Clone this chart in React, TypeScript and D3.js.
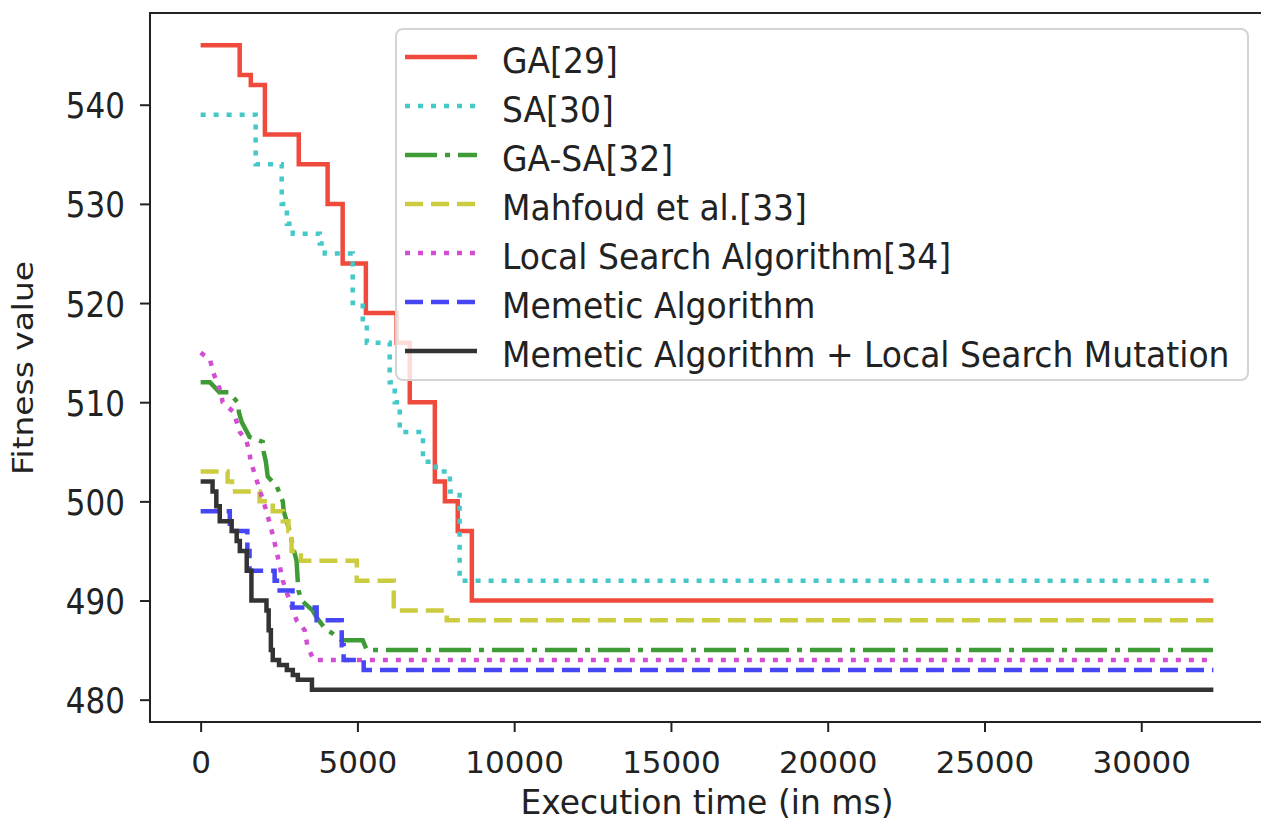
import React, { useEffect, useRef } from 'react';
import * as d3 from 'd3';

// values (time in ms, fitness value)
const gaTimes = [0, 1245, 1600, 2050, 3130, 4050, 4530, 5270, 6250, 6670, 7470, 7790, 8200, 8650, 32300];
const gaValues = [546, 543, 542, 537, 534, 530, 524, 519, 516, 510, 502, 500, 497, 490, 490];

const saTimes = [0, 1755, 2585, 2750, 2940, 3800, 3960, 4850, 5170, 5300, 6030, 6190, 6350, 7090, 7500, 7950, 8260, 32300];
const saValues = [539, 534, 530, 528, 527, 526, 525, 520, 518, 516, 512, 510, 507, 504, 503, 501, 492, 492];

const gasaTimes = [0, 300, 600, 900, 1180, 1220, 1310, 1560, 1980, 2010, 2080, 2140, 2430, 2620, 2650, 2840, 2940, 3060, 3090, 3120, 3220, 3570, 3700, 3960, 4200, 4500, 5170, 5300, 32300];
const gasaValues = [512, 512, 511, 511, 510, 509, 508, 506.5, 506, 505, 504, 502.5, 501.5, 500, 499, 497, 495.5, 494, 492.3, 491, 490, 489, 488.3, 487.2, 486.7, 486, 486, 485, 485];

const mahTimes = [0, 860, 1000, 1880, 2300, 2620, 2800, 2900, 3200, 4980, 6160, 7850, 32300];
const mahValues = [503, 502, 501, 500, 499, 498, 497, 495, 494, 492, 489, 488, 488];

const lsaTimes = [0, 300, 400, 650, 700, 1050, 1250, 1470, 1550, 1600, 1700, 1900, 2100, 2270, 2420, 2620, 2840, 3060, 3320, 3400, 3600, 32300];
const lsaValues = [515, 514.3, 513, 511, 510, 509, 507, 506, 505, 504, 503, 501, 499, 497, 495, 492, 490, 488, 487, 485.5, 484, 484];

const memTimes = [0, 930, 1490, 1560, 2360, 2520, 2930, 3700, 4500, 4560, 5200, 32300];
const memValues = [499, 497, 495, 493, 492, 491, 489.3, 488, 485.5, 484, 483, 483];

const malsTimes = [0, 380, 500, 610, 990, 1150, 1250, 1470, 1620, 2100, 2170, 2240, 2300, 2500, 2750, 2940, 3100, 3550, 32300];
const malsValues = [502, 501, 499.5, 498, 497, 496, 495, 493, 490, 489, 487, 485, 484, 483.5, 483, 482.5, 482, 481, 481];

const labels = [
  'GA[29]',
  'SA[30]',
  'GA-SA[32]',
  'Mahfoud et al.[33]',
  'Local Search Algorithm[34]',
  'Memetic Algorithm',
  'Memetic Algorithm + Local Search Mutation',
];

const xTicks = [0, 5000, 10000, 15000, 20000, 25000, 30000];
const yTicks = [480, 490, 500, 510, 520, 530, 540];

const FONT = 'DejaVu Sans, sans-serif';

export default function App() {
  const ref = useRef<SVGSVGElement>(null);

  useEffect(() => {
    drawChart();
  }, []);

  const drawChart = () => {
    const svg = d3.select(ref.current);
    svg.selectAll('*').remove();

    const series = [
      { t: gaTimes, v: gaValues, color: '#f04a3c', dash: null, curve: d3.curveStepAfter },
      { t: saTimes, v: saValues, color: '#45c8c8', dash: '5,8', curve: d3.curveStepAfter },
      { t: gasaTimes, v: gasaValues, color: '#3f9b35', dash: '32,8,5,8', curve: d3.curveLinear },
      { t: mahTimes, v: mahValues, color: '#cccc40', dash: '18,8', curve: d3.curveStepAfter },
      { t: lsaTimes, v: lsaValues, color: '#d24dd2', dash: '5,8', curve: d3.curveLinear },
      { t: memTimes, v: memValues, color: '#4646f5', dash: '18,8', curve: d3.curveStepAfter },
      { t: malsTimes, v: malsValues, color: '#333333', dash: null, curve: d3.curveStepAfter },
    ];

    const left = 150, right = 1264, top = 13, bottom = 722;

    const allT = series.flatMap(s => s.t);
    const allV = series.flatMap(s => s.v);
    const [t0, t1] = d3.extent(allT) as [number, number];
    const [v0, v1] = d3.extent(allV) as [number, number];
    const tp = (t1 - t0) * 0.05, vp = (v1 - v0) * 0.05;

    const x = d3.scaleLinear().domain([t0 - tp, t1 + tp]).range([left, right]);
    const y = d3.scaleLinear().domain([v0 - vp, v1 + vp]).range([bottom, top]);

    // lines
    const g = svg.append('g');
    series.forEach(s => {
      const pts = s.t.map((t, i) => [t, s.v[i]] as [number, number]);
      const line = d3.line<[number, number]>()
        .x(d => x(d[0]))
        .y(d => y(d[1]))
        .curve(s.curve);
      g.append('path')
        .attr('d', line(pts))
        .attr('fill', 'none')
        .attr('stroke', s.color)
        .attr('stroke-width', 4.5)
        .attr('stroke-dasharray', s.dash)
        .attr('stroke-linejoin', 'miter');
    });

    // frame
    svg.append('rect')
      .attr('x', left).attr('y', top)
      .attr('width', right - left).attr('height', bottom - top)
      .attr('fill', 'none')
      .attr('stroke', '#222')
      .attr('stroke-width', 2);

    // x axis
    const gx = svg.append('g')
      .attr('transform', `translate(0,${bottom})`)
      .call(d3.axisBottom(x).tickValues(xTicks).tickSize(10).tickFormat(d3.format('d')));
    gx.select('.domain').remove();
    gx.selectAll('line').attr('stroke', '#222').attr('stroke-width', 2);
    gx.selectAll('text')
      .attr('y', 51).attr('dy', null)
      .attr('font-family', FONT).attr('font-size', 31).attr('fill', '#222');

    // y axis
    const gy = svg.append('g')
      .attr('transform', `translate(${left},0)`)
      .call(d3.axisLeft(y).tickValues(yTicks).tickSize(10));
    gy.select('.domain').remove();
    gy.selectAll('line').attr('stroke', '#222').attr('stroke-width', 2);
    gy.selectAll('text')
      .attr('x', null).attr('dy', null)
      .attr('transform', 'translate(-25,13) scale(1,1.15)')
      .attr('font-family', FONT).attr('font-size', 31).attr('fill', '#222');

    // axis labels
    svg.append('text')
      .attr('x', (left + right) / 2).attr('y', 814)
      .attr('text-anchor', 'middle')
      .attr('font-family', FONT).attr('font-size', 33).attr('fill', '#222')
      .text('Execution time (in ms)');

    svg.append('text')
      .attr('transform', 'translate(33,368) rotate(-90) scale(1.15,1)')
      .attr('text-anchor', 'middle')
      .attr('font-family', FONT).attr('font-size', 28.6).attr('fill', '#222')
      .text('Fitness value');

    // legend
    const lg = svg.append('g');
    lg.append('rect')
      .attr('x', 396).attr('y', 29)
      .attr('width', 852).attr('height', 351)
      .attr('rx', 7)
      .attr('fill', '#fff').attr('fill-opacity', 0.8)
      .attr('stroke', '#d4d4d4').attr('stroke-width', 2);

    series.forEach((s, i) => {
      const ry = 57 + i * 49;
      lg.append('line')
        .attr('x1', 405).attr('x2', 477)
        .attr('y1', ry).attr('y2', ry)
        .attr('stroke', s.color)
        .attr('stroke-width', 4.5)
        .attr('stroke-dasharray', s.dash);
      lg.append('text')
        .attr('transform', `translate(502,${ry + 16}) scale(1,1.1)`)
        .attr('font-family', FONT).attr('font-size', 33).attr('fill', '#222')
        .text(labels[i]);
    });
  };

  return (
    <svg
      ref={ref}
      width={1261}
      height={827}
      style={{ position: 'absolute', left: 0, top: 0, background: '#fff' }}
    />
  );
}
